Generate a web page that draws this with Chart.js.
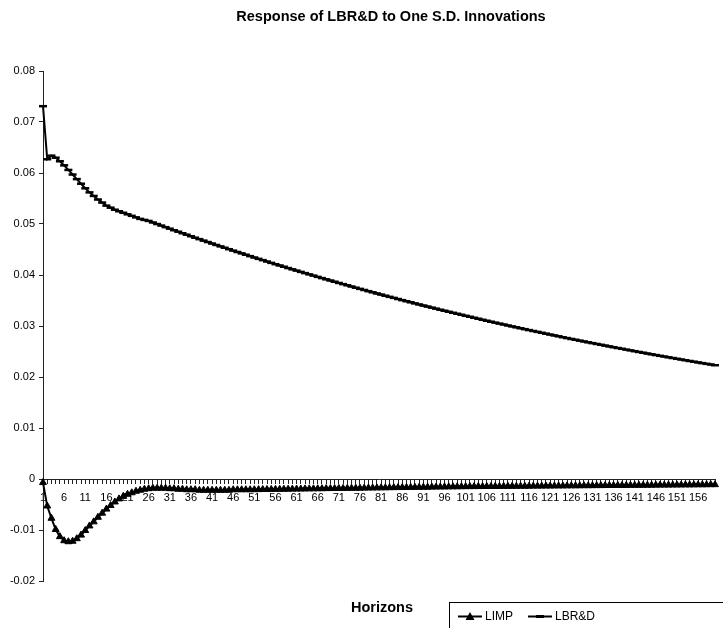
<!DOCTYPE html>
<html>
<head>
<meta charset="utf-8">
<script src="https://cdn.jsdelivr.net/npm/chart.js@4"></script>
<style>
  body { margin: 0; background: #fff; }
  #wrap { width: 723px; height: 628px; position: relative; }
</style>
</head>
<body>
<div id="wrap"><canvas id="irfChart"></canvas></div>
<script>
// ---------- DATA ----------
const horizons = Array.from({ length: 160 }, (_, i) => String(i + 1));

const limp = [
  -0.0007, -0.0053, -0.0077, -0.0099, -0.0113, -0.0121, -0.0123, -0.0122, -0.0117, -0.0110,
  -0.0101, -0.0092, -0.0084, -0.0075, -0.0067, -0.0059, -0.0052, -0.0045, -0.0039, -0.0034,
  -0.0030, -0.0027, -0.0024, -0.0022, -0.0020, -0.0019, -0.0018, -0.0018, -0.0018, -0.0018,
  -0.0019, -0.0019, -0.0020, -0.0020, -0.0021, -0.0021, -0.0021, -0.0022, -0.0022, -0.0022,
  -0.0022, -0.0022, -0.0022, -0.0022, -0.0022, -0.0021, -0.0021, -0.0021, -0.0021, -0.0021,
  -0.00209, -0.00208, -0.00206, -0.00205, -0.00204, -0.00203, -0.00202, -0.00200, -0.00199, -0.00198,
  -0.00197, -0.00196, -0.00194, -0.00193, -0.00192, -0.00191, -0.00190, -0.00188, -0.00187, -0.00186,
  -0.00185, -0.00184, -0.00182, -0.00181, -0.00180, -0.00179, -0.00178, -0.00176, -0.00175, -0.00174,
  -0.00173, -0.00172, -0.00170, -0.00169, -0.00168, -0.00167, -0.00166, -0.00164, -0.00163, -0.00162,
  -0.00161, -0.00160, -0.00158, -0.00157, -0.00156, -0.00155, -0.00154, -0.00153, -0.00152, -0.00151,
  -0.00150, -0.00149, -0.00149, -0.00148, -0.00147, -0.00147, -0.00146, -0.00145, -0.00145, -0.00144,
  -0.00143, -0.00143, -0.00142, -0.00141, -0.00141, -0.00140, -0.00139, -0.00139, -0.00138, -0.00137,
  -0.00137, -0.00136, -0.00135, -0.00135, -0.00134, -0.00133, -0.00133, -0.00132, -0.00131, -0.00131,
  -0.00130, -0.00129, -0.00129, -0.00128, -0.00127, -0.00127, -0.00126, -0.00125, -0.00125, -0.00124,
  -0.00123, -0.00123, -0.00122, -0.00121, -0.00121, -0.00120, -0.00119, -0.00119, -0.00118, -0.00117,
  -0.00117, -0.00116, -0.00115, -0.00115, -0.00114, -0.00113, -0.00113, -0.00112, -0.00111, -0.00111
];

const lbrd = [
  0.0731, 0.0627, 0.0634, 0.0630, 0.0623, 0.0615, 0.0606, 0.0597, 0.0588, 0.0579,
  0.0570, 0.0562, 0.0555, 0.0548, 0.0542, 0.0536, 0.0532, 0.0528, 0.0525, 0.0522,
  0.0519, 0.0516, 0.0513, 0.0510, 0.0508, 0.05060, 0.05030, 0.04999, 0.04969, 0.04938,
  0.04908, 0.04878, 0.04849, 0.04819, 0.04790, 0.04760, 0.04731, 0.04703, 0.04674, 0.04646,
  0.04617, 0.04589, 0.04561, 0.04534, 0.04506, 0.04478, 0.04451, 0.04424, 0.04397, 0.04370,
  0.04343, 0.04317, 0.04291, 0.04264, 0.04238, 0.04212, 0.04187, 0.04162, 0.04136, 0.04111,
  0.04086, 0.04061, 0.04037, 0.04012, 0.03988, 0.03963, 0.03939, 0.03915, 0.03892, 0.03868,
  0.03844, 0.03821, 0.03798, 0.03774, 0.03751, 0.03728, 0.03706, 0.03683, 0.03661, 0.03638,
  0.03616, 0.03594, 0.03572, 0.03551, 0.03529, 0.03507, 0.03486, 0.03465, 0.03443, 0.03422,
  0.03401, 0.03381, 0.03360, 0.03340, 0.03319, 0.03299, 0.03279, 0.03259, 0.03240, 0.03220,
  0.03200, 0.03181, 0.03161, 0.03142, 0.03122, 0.03103, 0.03084, 0.03066, 0.03047, 0.03029,
  0.03010, 0.02992, 0.02974, 0.02956, 0.02938, 0.02920, 0.02902, 0.02885, 0.02867, 0.02850,
  0.02832, 0.02815, 0.02798, 0.02780, 0.02763, 0.02746, 0.02730, 0.02713, 0.02697, 0.02680,
  0.02664, 0.02648, 0.02632, 0.02616, 0.02600, 0.02584, 0.02568, 0.02553, 0.02537, 0.02522,
  0.02506, 0.02491, 0.02476, 0.02460, 0.02445, 0.02430, 0.02415, 0.02401, 0.02386, 0.02372,
  0.02357, 0.02343, 0.02329, 0.02314, 0.02300, 0.02286, 0.02272, 0.02258, 0.02245, 0.02231
];

const yTicks = { min: -0.02, max: 0.08, step: 0.01 };
const seriesNames = ["LIMP", "LBR&D"];
const chartTitle = "Response of LBR&D to One S.D. Innovations";
const xTitle = "Horizons";

// ---------- EXTRAS: title, x title + boxed legend (Excel style) ----------
const excelExtras = {
  id: "excelExtras",
  afterDraw(chart) {
    const ctx = chart.ctx;
    ctx.save();
    ctx.fillStyle = "#000";
    ctx.strokeStyle = "#000";
    ctx.textAlign = "center";
    ctx.textBaseline = "middle";

    // chart title
    ctx.font = "bold 14.5px 'Liberation Sans', Arial, sans-serif";
    ctx.fillText(chartTitle, 391, 17);

    // axis title
    ctx.font = "bold 14.5px 'Liberation Sans', Arial, sans-serif";
    ctx.fillText(xTitle, 382, 608);

    // legend frame
    ctx.lineWidth = 1;
    ctx.strokeRect(449.5, 602.5, 320, 60);

    const y = 616.5;
    ctx.font = "12px 'Liberation Sans', Arial, sans-serif";
    ctx.textAlign = "left";
    ctx.lineWidth = 2;

    // LIMP
    ctx.beginPath();
    ctx.moveTo(458, y); ctx.lineTo(482, y); ctx.stroke();
    ctx.beginPath();
    ctx.moveTo(470, y - 4.5); ctx.lineTo(474.5, y + 3.5); ctx.lineTo(465.5, y + 3.5); ctx.closePath();
    ctx.fill();
    ctx.fillText(seriesNames[0], 485, y + 0.5);

    // LBR&D
    ctx.beginPath();
    ctx.moveTo(528, y); ctx.lineTo(552, y); ctx.stroke();
    ctx.fillRect(536, y - 1.5, 8, 3);
    ctx.fillText(seriesNames[1], 555, y + 0.5);
    ctx.restore();
  },
};

// ---------- CHART ----------
Chart.defaults.font.family = "'Liberation Sans', Arial, sans-serif";
Chart.defaults.color = "#000";

const ctx = document.getElementById("irfChart").getContext("2d");
new Chart(ctx, {
  type: "line",
  data: {
    labels: horizons,
    datasets: [
      {
        label: seriesNames[0],
        data: limp,
        borderColor: "#000",
        backgroundColor: "#000",
        borderWidth: 2,
        pointStyle: "triangle",
        pointRadius: 4,
        pointBorderWidth: 1,
        tension: 0,
        clip: false,
      },
      {
        label: seriesNames[1],
        data: lbrd,
        borderColor: "#000",
        backgroundColor: "#000",
        borderWidth: 2,
        pointStyle: "line",
        pointRadius: 4,
        pointBorderWidth: 2.5,
        tension: 0,
        clip: false,
      },
    ],
  },
  options: {
    responsive: true,
    maintainAspectRatio: false,
    animation: false,
    devicePixelRatio: 1,
    layout: { padding: { top: 71, left: 0, right: 1, bottom: 47 } },
    plugins: {
      legend: { display: false },
      tooltip: { enabled: false },
      title: { display: false },
    },
    scales: {
      x: {
        type: "category",
        position: { y: 0 },
        offset: false,
        grid: { drawOnChartArea: false, drawTicks: true, tickLength: 4, color: "#222" },
        border: { display: true, color: "#222", width: 1 },
        ticks: {
          autoSkip: false,
          maxRotation: 0,
          minRotation: 0,
          padding: 8,
          font: { size: 11 },
          callback: function (value, index) {
            return index % 5 === 0 ? this.getLabelForValue(value) : "";
          },
        },
      },
      y: {
        min: yTicks.min,
        max: yTicks.max,
        grid: { drawOnChartArea: false, drawTicks: true, tickLength: 4, color: "#222" },
        border: { display: true, color: "#222", width: 1 },
        ticks: {
          stepSize: yTicks.step,
          padding: 4,
          font: { size: 11 },
          callback: (v) => String(Number(v.toFixed(2))),
        },
        afterFit: (scale) => { scale.width = 43; },
      },
    },
  },
  plugins: [excelExtras],
});
</script>
</body>
</html>
